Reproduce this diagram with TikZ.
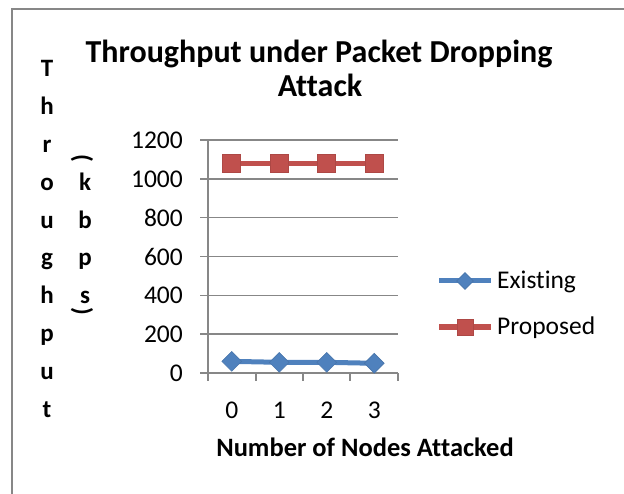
\documentclass[tikz,border=0pt]{standalone}
\usepackage{fontspec}
\setmainfont{Carlito}[Ligatures=NoCommon]
\usetikzlibrary{shapes.geometric}

\definecolor{existblue}{HTML}{4F81BD}
\definecolor{proposedred}{HTML}{C0504D}
\definecolor{chartgray}{HTML}{878787}

\newcommand{\ticksize}{\fontsize{25.5}{30}\selectfont}
\newcommand{\labsize}{\fontsize{25}{30}\selectfont\bfseries}
\newcommand{\xtitlesize}{\fontsize{26.5}{31}\selectfont\bfseries}
\newcommand{\titlesize}{\fontsize{32}{36}\selectfont\bfseries}

\begin{document}
\begin{tikzpicture}[x=1pt, y=-1pt,
    gridline/.style={chartgray, line width=1.6pt},
    ticklabel/.style={inner sep=3pt, font=\ticksize},
    axislabel/.style={inner sep=0pt, font=\labsize},
    bluemark/.style={diamond, aspect=1, fill=existblue, draw=existblue!90!black, line width=0.6pt, inner sep=0pt, minimum size=20pt},
    redmark/.style={rectangle, fill=proposedred, draw=proposedred!90!black, line width=0.6pt, inner sep=0pt, minimum size=18pt}]
  \useasboundingbox (0,0) rectangle (624,494);

  % outer frame
  \draw[chartgray, line width=2pt] (11.5,494) -- (11.5,9) -- (624,9);

  % title
  \node[inner sep=0pt, font=\titlesize, anchor=base] (title1) at (319,63) {Throughput under Packet Dropping};
  \node[inner sep=0pt, font=\titlesize, anchor=base] (title2) at (320,97) {Attack};

  % grid and axes
  \foreach \k in {1,...,6}
    \draw[gridline] (200,{373-38.833*\k}) -- (398,{373-38.833*\k});
  \draw[gridline] (200,373) -- (398,373);
  \draw[gridline] (208,140) -- (208,381);
  \foreach \x in {256,303,350,398}
    \draw[gridline] (\x,373) -- (\x,381);

  % tick labels
  \foreach \v [count=\k from 0] in {0,200,...,1200}
    \node[ticklabel, anchor=east] (yl\k) at (186,{373-0.194167*\v}) {\v};
  \foreach \n in {0,...,3}
    \node[ticklabel] (xl\n) at ({231.75+47.5*\n},410) {\n};

  % axis titles
  \foreach \ch [count=\i] in {T,h,r,o,u,g,h,p,u,t}
    \node[axislabel, anchor=base] (yt\i) at (47,{77+37.8*(\i-1)}) {\ch};
  \foreach \ch [count=\i from 4] in {k,b,p,s}
    \node[axislabel, anchor=base] (yu\i) at (85,{77+37.8*(\i-1)}) {\ch};
  \node[axislabel, rotate=-90] (lpar) at (82,158) {(};
  \node[axislabel, rotate=-90] (rpar) at (82,311) {)};
  \node[inner sep=0pt, font=\xtitlesize, anchor=base] (xtitle) at (365,456) {Number of Nodes Attacked};

  % data series
  \begin{scope}[shift={(208,373)}, x=47.5pt, y=0.194167pt]
    \coordinate (e0) at (0.5,60);
    \coordinate (e1) at (1.5,55);
    \coordinate (e2) at (2.5,55);
    \coordinate (e3) at (3.5,50);
    \coordinate (p0) at (0.5,1080);
    \coordinate (p1) at (1.5,1080);
    \coordinate (p2) at (2.5,1080);
    \coordinate (p3) at (3.5,1080);
  \end{scope}
  \draw[existblue, line width=5pt] (e0) -- (e1) -- (e2) -- (e3);
  \draw[proposedred, line width=5.5pt] (p0) -- (p1) -- (p2) -- (p3);
  \foreach \n in {0,...,3} {
    \node[bluemark] (em\n) at (e\n) {};
    \node[redmark] (pm\n) at (p\n) {};
  }

  % legend
  \coordinate (le1) at (439,281);
  \coordinate (le2) at (491,281);
  \coordinate (lp1) at (439,327);
  \coordinate (lp2) at (491,327);
  \draw[existblue, line width=5pt] (le1) -- (le2);
  \draw[proposedred, line width=5.5pt] (lp1) -- (lp2);
  \node[bluemark, minimum size=17pt] (lem) at (465,281) {};
  \node[redmark, minimum size=16pt] (lpm) at (465,327) {};
  \node[inner sep=0pt, font=\ticksize, anchor=base west] (lt1) at (497,289) {Existing};
  \node[inner sep=0pt, font=\ticksize, anchor=base west] (lt2) at (497,335) {Proposed};
\end{tikzpicture}
\end{document}
